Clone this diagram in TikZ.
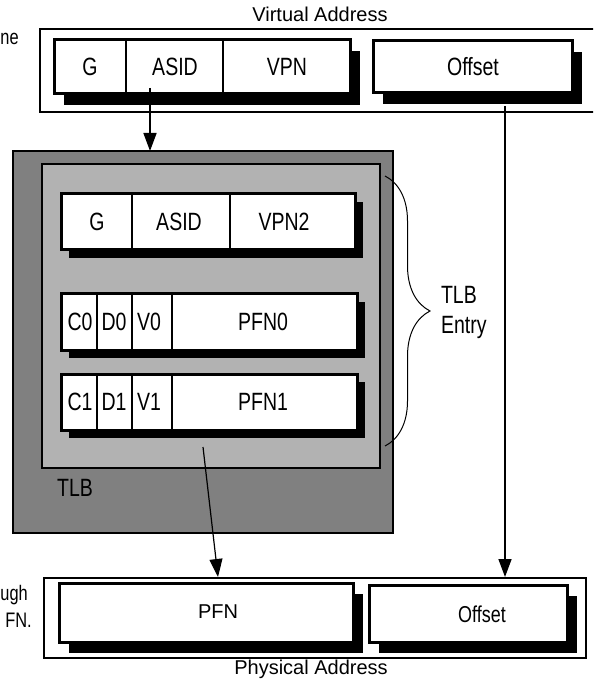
\documentclass[tikz,border=0pt]{standalone}
\usepackage{fontspec}
\setmainfont{Liberation Sans}
\newfontfamily\narrowfont{Liberation Sans}[FakeStretch=0.78]
\usetikzlibrary{arrows.meta,shadows,decorations.pathreplacing}

\tikzset{
  addrbox/.style={draw, line width=1pt},
  fieldrow/.style={draw, fill=white, line width=1.5pt,
    drop shadow={shadow xshift=5pt, shadow yshift=-5.5pt, fill=black, opacity=1}},
  entryrow/.style={draw, fill=white, line width=1.5pt,
    drop shadow={shadow xshift=4pt, shadow yshift=-4pt, fill=black, opacity=1}},
  sep/.style={line width=1pt},
  ptr/.style={line width=0.8pt, -{Triangle[length=9pt,width=6.5pt]}},
  plain/.style={font=\rmfamily\fontsize{10}{12}\selectfont},
  cut/.style={inner sep=0pt, anchor=base west, font=\narrowfont\fontsize{10.5}{12}\selectfont}
}

\begin{document}
\begin{tikzpicture}[
  x=0.5pt,
  y=-0.5pt,
  font=\narrowfont\fontsize{12.5}{15}\selectfont
]
\useasboundingbox (0,0) rectangle (593,683);
\clip (0,0) rectangle (593,683);

% text cut off at the left border
\node[cut] (cutne) at (0,45) {ne};
\node[cut] (cutugh) at (0,600) {ugh};
\node[cut] (cutfn) at (5,627) {FN.};

% virtual address
\node[plain] (valabel) at (320,14) {Virtual Address};
\draw[addrbox] (40,29) rectangle (610,112);
\draw[fieldrow] (54,40) rectangle (350,94);
\draw[sep] (126,40) -- (126,94) (223,40) -- (223,94);
\node (vag) at (90,67) {G};
\node (vaasid) at (175,67) {ASID};
\node (vavpn) at (287,67) {VPN};
\draw[fieldrow] (373,41) rectangle (572,93);
\node (vaoffset) at (473,67) {Offset};

% TLB
\draw[fill=black!50, line width=1pt] (13,151) rectangle (393,533);
\draw[fill=black!30, line width=1pt] (42,164) rectangle (380,468);
\node (tlblabel) at (75,488) {TLB};

% entry: G / ASID / VPN2
\draw[entryrow] (61,194) rectangle (355,250);
\draw[sep] (132,194) -- (132,250) (230,194) -- (230,250);
\node (eg) at (97,222) {G};
\node (easid) at (179,222) {ASID};
\node (evpn) at (284,222) {VPN2};

% entry: even page
\draw[entryrow] (61,294) rectangle (357,350);
\draw[sep] (97,294) -- (97,350) (132,294) -- (132,350) (172,294) -- (172,350);
\node (ec0) at (80,322) {C0};
\node (ed0) at (114,322) {D0};
\node (ev0) at (149,322) {V0};
\node (epfn0) at (263,322) {PFN0};

% entry: odd page
\draw[entryrow] (61,374) rectangle (357,430);
\draw[sep] (97,374) -- (97,430) (132,374) -- (132,430) (172,374) -- (172,430);
\node (ec1) at (80,402) {C1};
\node (ed1) at (114,402) {D1};
\node (ev1) at (149,402) {V1};
\node (epfn1) at (263,402) {PFN1};

% brace round one entry
\coordinate (entrytop) at (385,176);
\coordinate (entrybot) at (385,446);
\draw[line width=0.5pt, decorate, decoration={brace, amplitude=22.5pt}] (entrytop) -- (entrybot);
\node[anchor=west, align=left, font=\narrowfont\fontsize{12.5}{15}\selectfont] (entrylabel) at (434,312) {TLB\\Entry};

% physical address
\draw[addrbox] (44,578) rectangle (586,658);
\draw[fieldrow] (59,583) rectangle (353,642);
\node[plain] (papfn) at (218,612) {PFN};
\draw[fieldrow] (369,585) rectangle (567,642);
\node[font=\narrowfont\fontsize{11.5}{14}\selectfont] (paoffset) at (482,614) {Offset};
\node[plain] (palabel) at (311,669) {Physical Address};

% arrows
\coordinate (asidtap) at (150,88);
\coordinate (tlbtop) at (150,151);
\draw[ptr] (asidtap) -- (tlbtop);
\coordinate (offtap) at (505,106);
\coordinate (paoffin) at (505,577);
\draw[ptr] (offtap) -- (paoffin);
\coordinate (pfntap) at (203,447);
\coordinate (papfnin) at (218,577);
\draw[ptr, line width=0.6pt] (pfntap) -- (papfnin);
\end{tikzpicture}
\end{document}
